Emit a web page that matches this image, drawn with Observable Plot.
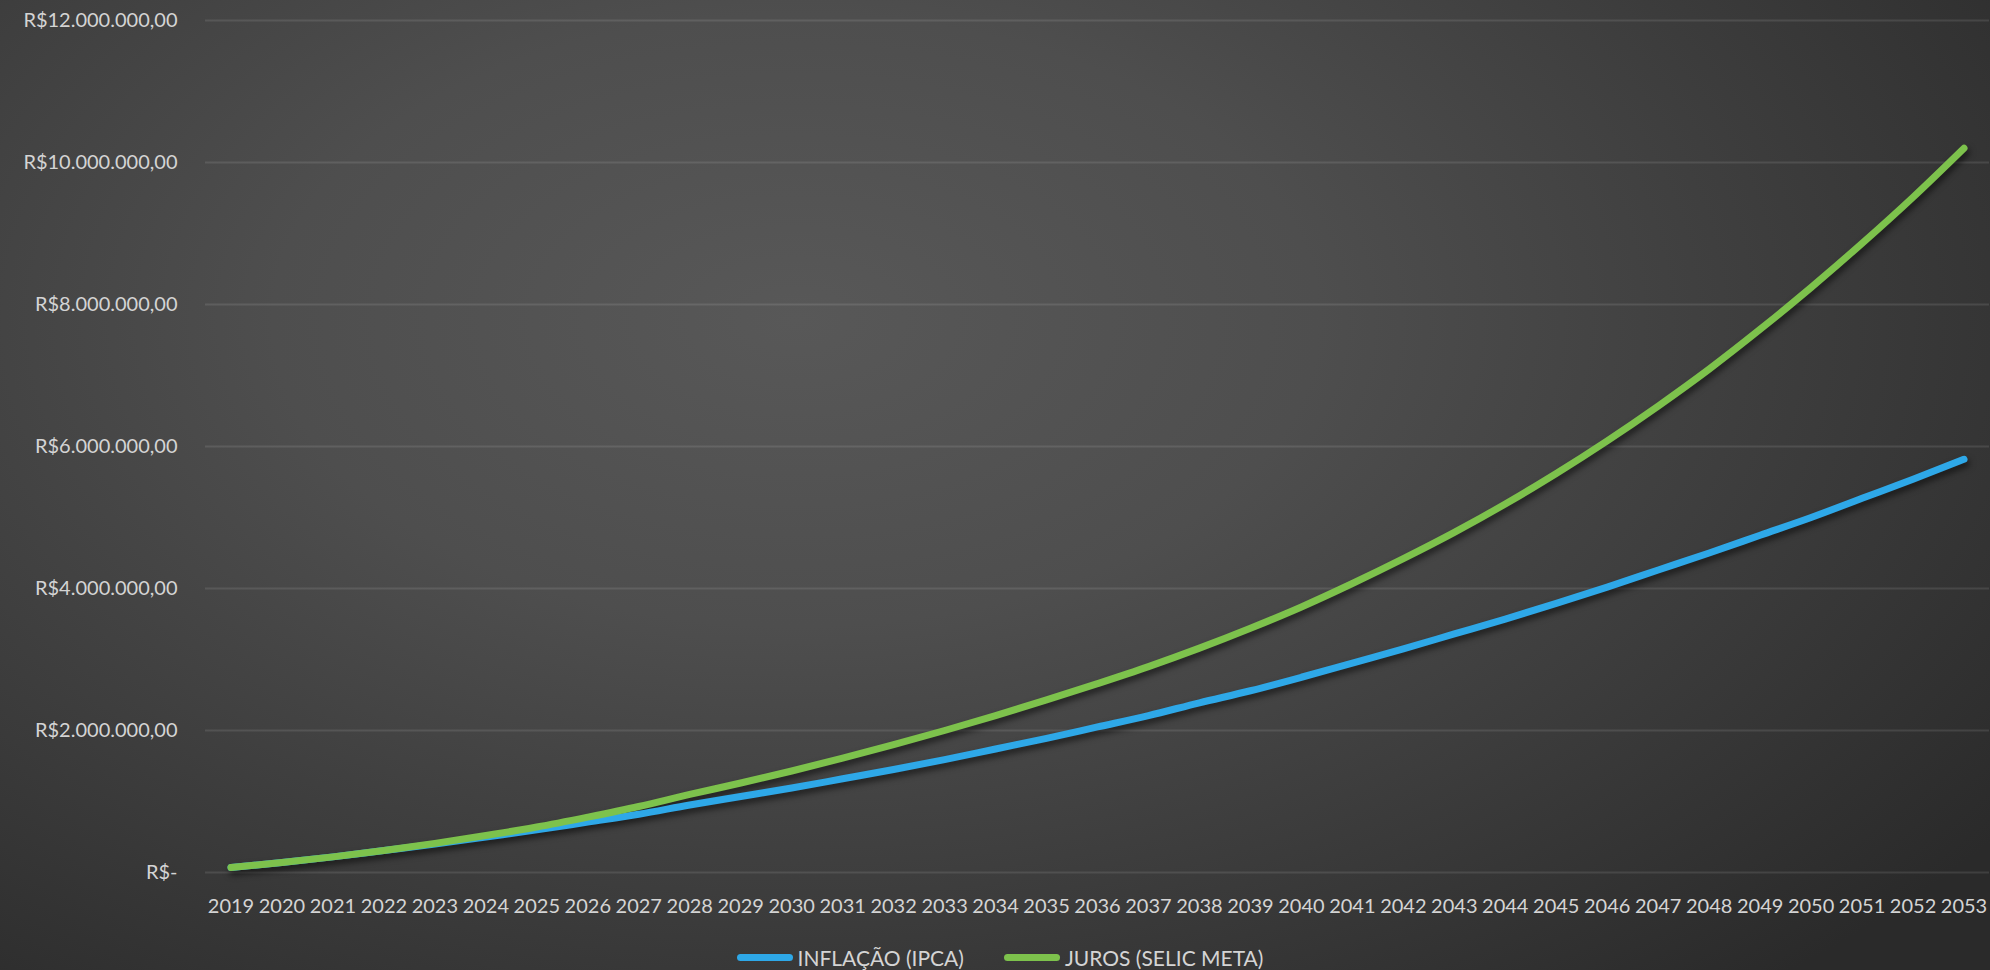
<!DOCTYPE html>
<html>
<head>
<meta charset="utf-8">
<script src="https://cdn.jsdelivr.net/npm/d3@7"></script>
<script src="https://cdn.jsdelivr.net/npm/@observablehq/plot@0.6"></script>
<style>
  html, body { margin: 0; padding: 0; }
  body {
    width: 1990px; height: 970px; overflow: hidden;
    background: radial-gradient(ellipse 75% 90% at 40% 33%, #585858 0%, #4e4e4e 35%, #2a2a2a 100%);
    font-family: Lato, "Open Sans", sans-serif;
  }
  #chart svg { display: block; background: transparent; }
  #legend {
    height: 40px; padding-top: 7px;
    display: flex; justify-content: center; align-items: center;
    color: #d4d4d4; font-size: 21px; font-family: Lato, sans-serif;
    padding-left: 10px;
  }
  .item { display: flex; align-items: center; margin: 0 20px; }
  .sw { width: 56px; height: 7px; border-radius: 4px; margin-right: 5px; }
</style>
</head>
<body>
<div id="chart"></div>
<div id="legend"></div>
<script>
const years = [2019,2020,2021,2022,2023,2024,2025,2026,2027,2028,2029,2030,2031,2032,2033,2034,2035,2036,2037,2038,2039,2040,2041,2042,2043,2044,2045,2046,2047,2048,2049,2050,2051,2052,2053];
const inflacao = [70000,140000,220000,310000,400000,500000,600000,710000,820000,950000,1070000,1190000,1320000,1450000,1590000,1740000,1890000,2050000,2210000,2390000,2560000,2750000,2950000,3150000,3360000,3570000,3790000,4020000,4260000,4500000,4750000,5000000,5270000,5540000,5820000];
const juros = [70000,140000,220000,310000,410000,520000,640000,780000,930000,1100000,1260000,1430000,1610000,1800000,2000000,2210000,2430000,2660000,2900000,3160000,3440000,3740000,4070000,4420000,4790000,5190000,5620000,6080000,6570000,7090000,7650000,8240000,8860000,9510000,10200000];
const seriesNames = ["INFLAÇÃO (IPCA)", "JUROS (SELIC META)"];
const seriesColors = ["#2ea8e8", "#7dc24c"];
const yTicks = [0,2000000,4000000,6000000,8000000,10000000,12000000];

const rows = [];
years.forEach((y, i) => {
  rows.push({year: String(y), value: inflacao[i], s: seriesNames[0]});
});
years.forEach((y, i) => {
  rows.push({year: String(y), value: juros[i], s: seriesNames[1]});
});

const fmtBR = v => v === 0 ? "R$-" :
  "R$" + Math.round(v).toString().replace(/\B(?=(\d{3})+(?!\d))/g, ".") + ",00";

const chart = Plot.plot({
  width: 1990,
  height: 930,
  marginTop: 20,
  marginBottom: 58,
  marginLeft: 205,
  marginRight: 1,
  style: {background: "transparent", color: "#d4d4d4", fontFamily: "Lato, sans-serif", fontSize: "20px"},
  x: {type: "point", domain: years.map(String), padding: 0.5, label: null},
  y: {domain: [0, 12000000], label: null},
  color: {domain: seriesNames, range: seriesColors},
  marks: [
    Plot.gridY(yTicks, {stroke: "white", strokeOpacity: 0.1, strokeWidth: 2}),
    Plot.axisY(yTicks, {tickSize: 0, tickPadding: 28, tickFormat: fmtBR, fontSize: 20, fill: "#d4d4d4", label: null}),
    Plot.axisX({tickSize: 0, tickPadding: 26, fontSize: 20, fill: "#d4d4d4", label: null}),
    Plot.line(rows, {x: "year", y: "value", z: "s", stroke: "s", strokeWidth: 7, curve: "monotone-x", strokeLinecap: "round", strokeLinejoin: "round"})
  ]
});
document.getElementById("chart").appendChild(chart);
d3.select(chart).selectAll("g[aria-label=line]").style("filter", "drop-shadow(2px 4px 3px rgba(0,0,0,0.55))");

const legend = d3.select("#legend");
seriesNames.forEach((n, i) => {
  const it = legend.append("div").attr("class", "item");
  it.append("div").attr("class", "sw").style("background", seriesColors[i]);
  it.append("span").text(n);
});
</script>
</body>
</html>
